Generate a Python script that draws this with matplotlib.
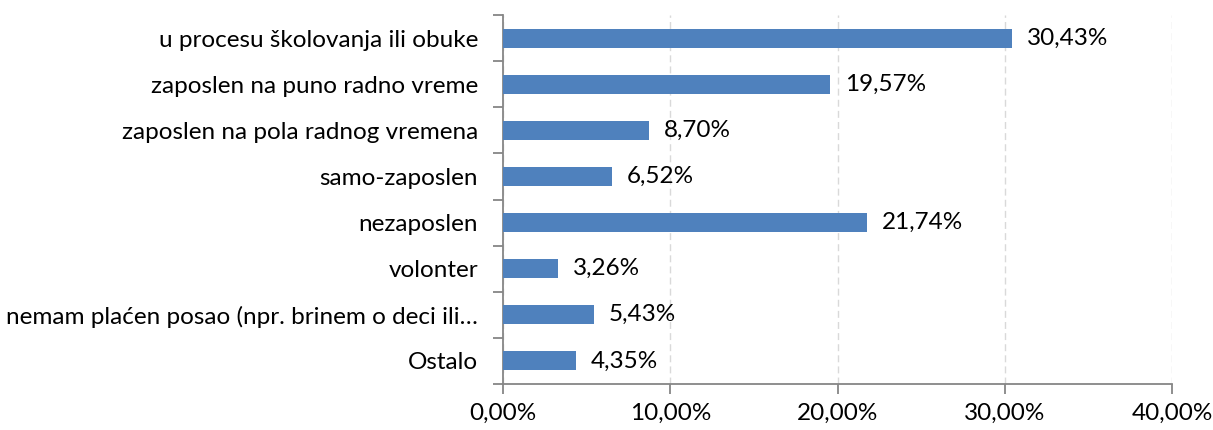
import numpy as np
import matplotlib.pyplot as plt
from matplotlib.ticker import FuncFormatter

plt.rcParams['font.family'] = ['Lato', 'DejaVu Sans']

categories = ['u procesu školovanja ili obuke',
              'zaposlen na puno radno vreme',
              'zaposlen na pola radnog vremena',
              'samo-zaposlen',
              'nezaposlen',
              'volonter',
              'nemam plaćen posao (npr. brinem o deci ili…',
              'Ostalo']
values = [30.43, 19.57, 8.70, 6.52, 21.74, 3.26, 5.43, 4.35]
x_ticks = [0, 10, 20, 30, 40]

BAR = '#4F81BD'
AXIS = '#868686'
FS = 17.5

fig = plt.figure(figsize=(12.13, 4.30), dpi=100)
ax = fig.add_axes([0.4147, 0.107, 0.5515, 0.858])

y = np.arange(len(categories))
ax.barh(y, values, height=0.41, color=BAR, zorder=3)
for yi, v in zip(y, values):
    ax.text(v + 0.9, yi, f'{v:.2f}%'.replace('.', ','), va='center',
            ha='left', fontsize=FS, color='black')

ax.set_ylim(len(categories) - 0.5, -0.5)
ax.set_xlim(0, 40)
ax.set_yticks(y)
ax.set_yticklabels(categories, fontsize=FS)
ax.set_yticks(np.arange(len(categories) + 1) - 0.5, minor=True)
ax.tick_params(axis='y', which='major', length=0, pad=18)
ax.tick_params(axis='y', which='minor', length=7, color=AXIS, width=1.3)
ax.set_xticks(x_ticks)
ax.xaxis.set_major_formatter(FuncFormatter(lambda v, p: f'{v:.2f}%'.replace('.', ',')))
ax.tick_params(axis='x', length=7, color=AXIS, width=1.3, labelsize=FS, pad=6.5)

ax.grid(axis='x', color='#D9D9D9', linestyle=(0, (5, 3)), linewidth=1, zorder=0)
for s in ['top', 'right']:
    ax.spines[s].set_visible(False)
for s in ['left', 'bottom']:
    ax.spines[s].set_color(AXIS)
    ax.spines[s].set_linewidth(1.3)

fig.savefig('out.png', dpi=100)
